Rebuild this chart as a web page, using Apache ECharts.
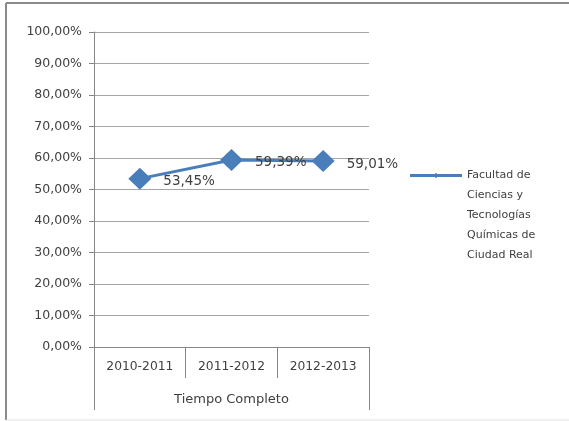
<!DOCTYPE html>
<html>
<head>
<meta charset="utf-8">
<script src="https://cdn.jsdelivr.net/npm/echarts@6/dist/echarts.min.js"></script>
<style>html,body{margin:0;padding:0;background:#fff;}#c{width:569px;height:421px;}</style>
</head>
<body>
<div id="c"></div>
<script>
const categories = ['2010-2011', '2011-2012', '2012-2013'];
const groupLabels = ['Tiempo Completo'];
const seriesName = 'Facultad de\nCiencias y\nTecnologías\nQuímicas de\nCiudad Real';
const values = [0.5345, 0.5939, 0.5901];

const fmtPct = v => (v * 100).toFixed(2).replace('.', ',') + '%';
const font = 'DejaVu Sans';
const txt = '#404040';

const chart = echarts.init(document.getElementById('c'), null, {renderer: 'canvas'});
chart.setOption({
  animation: false,
  backgroundColor: '#fff',
  textStyle: {fontFamily: font},
  grid: {left: 94, right: 200, top: 32, bottom: 74, containLabel: false},
  legend: {
    left: 410, top: 165, orient: 'vertical', padding: 0,
    itemWidth: 52, itemHeight: 100,
    icon: 'path://M0,0 L0.01,0 Z M0,9 L52,9 L52,12 L0,12 Z M26,7.5 L28,10.5 L26,13.5 L24,10.5 Z M0,100 L0.01,100 Z',
    itemGap: 0,
    textStyle: {fontFamily: font, fontSize: 11, color: txt, lineHeight: 20},
    data: [{name: seriesName, itemStyle: {color: '#4a7ebb'}}]
  },
  xAxis: [{
    type: 'category', data: categories, position: 'bottom', boundaryGap: true,
    axisLine: {show: true, lineStyle: {color: '#868686', width: 1}},
    axisTick: {show: true, length: 31, interval: 0, lineStyle: {color: '#868686'}},
    axisLabel: {fontFamily: font, fontSize: 12.3, color: txt, margin: 14, interval: 0},
    splitLine: {show: false}
  }, {
    type: 'category', data: groupLabels, position: 'bottom', boundaryGap: true,
    axisLine: {show: false},
    axisTick: {show: true, length: 63, interval: 0, lineStyle: {color: '#868686'}},
    axisLabel: {fontFamily: font, fontSize: 13, color: txt, margin: 46},
    splitLine: {show: false}
  }],
  yAxis: {
    type: 'value', min: 0, max: 1, interval: 0.1,
    axisLine: {show: true, lineStyle: {color: '#868686'}},
    axisTick: {show: true, length: 5, inside: false, lineStyle: {color: '#868686'}},
    axisLabel: {fontFamily: font, fontSize: 12.5, color: txt, margin: 12, formatter: fmtPct},
    splitLine: {show: true, lineStyle: {color: '#a6a6a6', width: 1}}
  },
  series: [{
    name: seriesName, type: 'line', data: values, xAxisIndex: 0,
    symbol: 'diamond', symbolSize: [23, 22],
    lineStyle: {color: '#4a7ebb', width: 3},
    itemStyle: {color: '#4a7ebb'},
    label: {show: true, position: 'right', distance: 12, formatter: p => fmtPct(p.value),
      fontFamily: font, fontSize: 13.5, color: txt, offset: [0, 3]}
  }],
  graphic: [
    {type: 'line', shape: {x1: 6, y1: 3, x2: 6, y2: 420}, style: {stroke: '#8a8a8a', lineWidth: 2}},
    {type: 'line', shape: {x1: 6, y1: 3, x2: 569, y2: 3}, style: {stroke: '#8a8a8a', lineWidth: 2}},
    {type: 'line', shape: {x1: 6, y1: 420, x2: 569, y2: 420}, style: {stroke: '#e0e0e0', lineWidth: 1}}
  ]
});
</script>
</body>
</html>
